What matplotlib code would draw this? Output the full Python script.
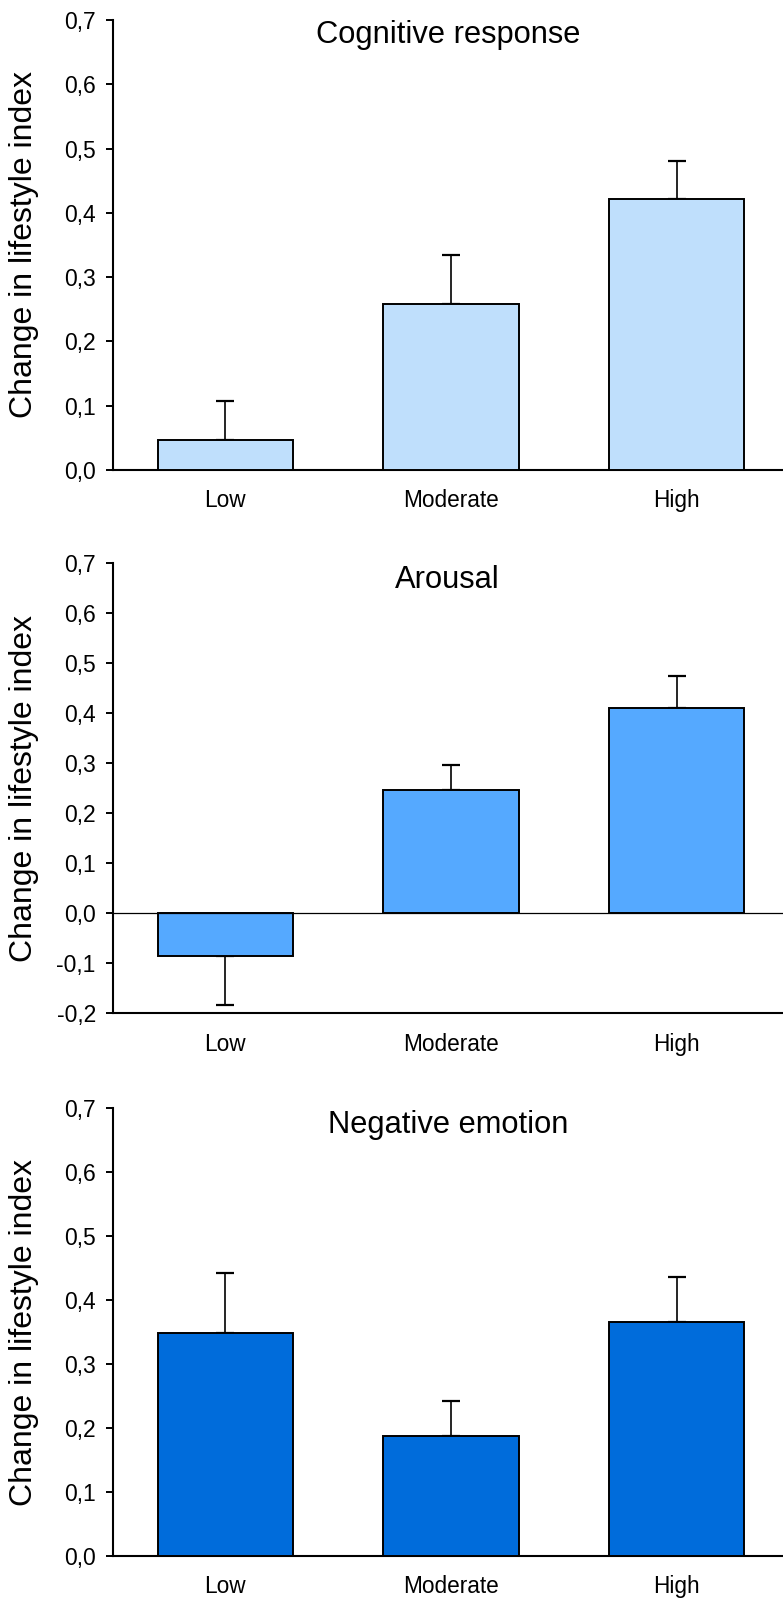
import matplotlib
matplotlib.use("Agg")
import matplotlib.pyplot as plt
from matplotlib.ticker import FuncFormatter, MultipleLocator
import numpy as np

plt.rcParams['font.family'] = ['Liberation Sans', 'DejaVu Sans']

categories = ["Low", "Moderate", "High"]

titles = ["Cognitive response", "Arousal", "Negative emotion"]
cognitive_mean = [0.047, 0.259, 0.421]
cognitive_se = [0.061, 0.075, 0.060]
arousal_mean = [-0.085, 0.246, 0.410]
arousal_se = [0.098, 0.050, 0.065]
negative_mean = [0.349, 0.188, 0.366]
negative_se = [0.094, 0.054, 0.070]

colors = ["#BFDFFC", "#55A9FF", "#006CDB"]
ylims = [(0.0, 0.7), (-0.2, 0.7), (0.0, 0.7)]
means = [cognitive_mean, arousal_mean, negative_mean]
ses = [cognitive_se, arousal_se, negative_se]

W, H = 783, 1598
fig = plt.figure(figsize=(W / 100, H / 100), dpi=100)

# axes boxes in pixels (top, bottom)
boxes = [(20, 470), (563.3, 1013.3), (1108.3, 1555.7)]
title_y = [0.949, 0.945, 0.944]
left_px = 112.5

fmt = FuncFormatter(lambda v, p: f"{v:.1f}".replace('.', ','))

for i in range(3):
    top, bot = boxes[i]
    ax = fig.add_axes([left_px / W, 1 - bot / H, (W - left_px) / W, (bot - top) / H])
    x = np.arange(len(categories))
    m = np.array(means[i])
    e = np.array(ses[i])
    lower = np.where(m < 0, e, 0)
    upper = np.where(m >= 0, e, 0)
    ax.errorbar(x, m, yerr=[lower, upper], fmt='none', ecolor='black',
                elinewidth=1.2, capsize=6.5, capthick=1.6, zorder=2)
    ax.bar(x, m, width=0.6, color=colors[i], edgecolor='black', linewidth=1.4, zorder=3)
    if ylims[i][0] < 0:
        ax.axhline(0, color='black', linewidth=0.9, zorder=4)
    ax.set_xlim(-0.5, 2.472)
    ax.set_ylim(*ylims[i])
    ax.yaxis.set_major_locator(MultipleLocator(0.1))
    ax.yaxis.set_major_formatter(fmt)
    ax.set_xticks(x)
    ax.set_xticklabels(categories)
    ax.tick_params(axis='x', length=0, pad=14, labelsize=16.3)
    ax.tick_params(axis='y', length=5, width=1.4, pad=7, labelsize=16.5, direction='out')
    for s in ['top', 'right']:
        ax.spines[s].set_visible(False)
    for s in ['left', 'bottom']:
        ax.spines[s].set_linewidth(1.5)
    ax.text(0.5, title_y[i], titles[i], transform=ax.transAxes, ha='center',
            va='baseline', fontsize=22.2)
    fig.text(24 / W, 1 - (top + bot) / 2 / H, "Change in lifestyle index",
             rotation=90, ha='center', va='center', fontsize=23)

fig.savefig("out.png", dpi=100)
